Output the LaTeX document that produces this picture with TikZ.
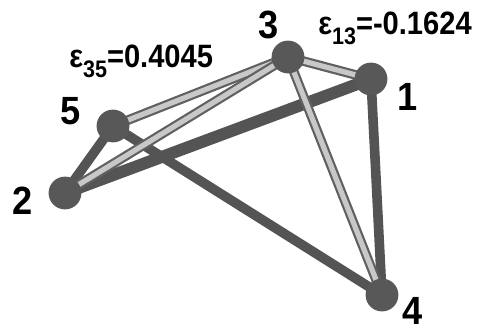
\documentclass[tikz,border=0pt]{standalone}
\usepackage{fontspec}
\setmainfont{Liberation Sans}
\usetikzlibrary{backgrounds}
\usepackage{xcolor}
\definecolor{AtomGrey}{RGB}{88,88,88}
\definecolor{BondDark}{RGB}{84,84,84}
\definecolor{BondLight}{RGB}{200,200,200}
\definecolor{BondEdge}{RGB}{96,96,96}

\begin{document}
\begin{tikzpicture}[
x=0.025cm,y=-0.025cm,
atom/.style={circle,fill=AtomGrey,inner sep=0pt,minimum size=0.82cm},
bond/.style={line width=0.24cm,draw=BondDark},
wbond/.style={line width=0.24cm,draw=BondEdge,
postaction={draw=BondLight,line width=0.13cm}},
num/.style={font=\fontsize{28}{30}\selectfont\bfseries,inner sep=0pt,xscale=0.92},
eps/.style={font=\fontsize{23}{25}\selectfont\bfseries,inner sep=0pt,xscale=0.9}
]
\useasboundingbox (0,0) rectangle (479,331);
\node[atom] (n1) at (371,79) {};
\node[atom] (n2) at (65,193) {};
\node[atom] (n3) at (288,57) {};
\node[atom] (n4) at (382,295) {};
\node[atom] (n5) at (113,126) {};
% bonds
\begin{scope}[on background layer]
\draw[bond] (n5.center) -- (n2.center);
\draw[bond,line width=0.3cm] (n2.center) -- (n1.center);
\draw[bond] (n5.center) -- (n4.center);
\draw[bond] (n1.center) -- (n4.center);
\draw[wbond] (n3.center) -- (n5.center);
\draw[wbond] (n3.center) -- (n2.center);
\draw[wbond] (n3.center) -- (n1.center);
\draw[wbond] (n3.center) -- (n4.center);
\end{scope}
% labels
\node[num] (l1) at (408,97) {1};
\node[num] (l2) at (23,201) {2};
\node[num] (l3) at (269,25) {3};
\node[num] (l4) at (413,311) {4};
\node[num] (l5) at (71,111) {5};
\node[eps,anchor=base west] (e35) at (69,67) {ε{\fontsize{17}{19}\selectfont\raisebox{-0.45em}{35}}=0.4045};
\node[eps,anchor=base west] (e13) at (318,34) {ε{\fontsize{17}{19}\selectfont\raisebox{-0.45em}{13}}=-0.1624};
\end{tikzpicture}
\end{document}
